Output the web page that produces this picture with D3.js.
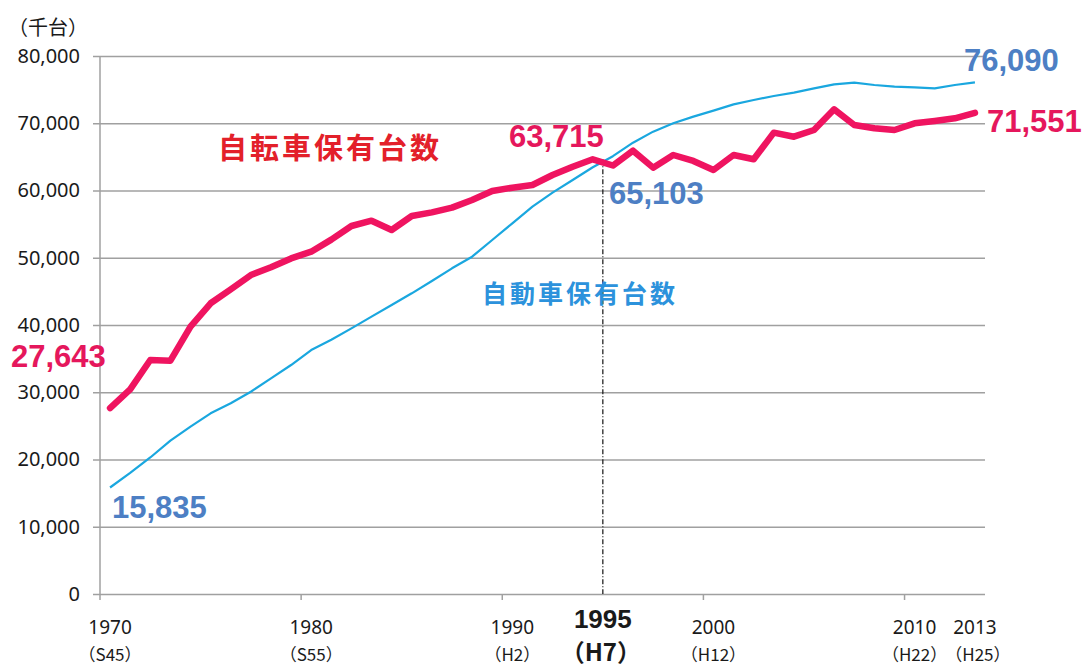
<!DOCTYPE html>
<html>
<head>
<meta charset="utf-8">
<script src="https://cdn.jsdelivr.net/npm/d3@7"></script>
<style>
  body { margin: 0; background: #fff; }
  svg { display: block; }
  .tick text { font-family: "Noto Sans", sans-serif; }
</style>
</head>
<body>
<svg id="chart" width="1086" height="668"></svg>
<script>
// years 1970 .. 2013
const years = d3.range(1970, 2014);

// 自転車保有台数 (千台)
const bicycles = [
  27643, 30440, 34800, 34700, 39750, 43230, 45300, 47430, 48580, 49900,
  50900, 52700, 54720, 55510, 54130, 56210, 56750, 57450, 58590, 59930,
  60420, 60820, 62300, 63540, 64640, 63715, 65920, 63400, 65280, 64390,
  63050, 65280, 64640, 68600, 68000, 69000, 72070, 69740, 69250, 69000,
  69990, 70330, 70730, 71551
];

// 自動車保有台数 (千台)
const cars = [
  15835, 18000, 20300, 22800, 24900, 26870, 28360, 30080, 32070, 34050,
  36280, 37800, 39500, 41240, 42970, 44710, 46540, 48430, 50160, 52640,
  55120, 57590, 59680, 61560, 63450, 65103, 67110, 68750, 69990, 70980,
  71870, 72810, 73460, 74050, 74550, 75190, 75790, 76030, 75690, 75440,
  75340, 75190, 75690, 76090
];

const yTicks = d3.range(0, 80001, 10000);
const xTickYears = [1970, 1980, 1990, 2000, 2010, 2013];
const xTickEras = {1970: "（S45）", 1980: "（S55）", 1990: "（H2）", 2000: "（H12）", 2010: "（H22）", 2013: "（H25）"};
const markYear = 1995;

const plotLeft = 100, plotRight = 985, plotTop = 56, plotBottom = 594;

const svg = d3.select("#chart");

const x = d3.scaleBand().domain(years).range([plotLeft, plotRight]);
const cx = d => x(d) + x.bandwidth() / 2;
const y = d3.scaleLinear().domain([0, 80000]).range([plotBottom, plotTop]);

// gridlines + y labels
const yAxis = svg.append("g")
    .attr("transform", "translate(" + plotLeft + ",0)")
    .call(d3.axisLeft(y).tickValues(yTicks).tickSize(-(plotRight - plotLeft)).tickSizeOuter(0).tickPadding(20)
      .tickFormat(d3.format(",")));
yAxis.select(".domain").remove();
yAxis.selectAll(".tick line").attr("stroke", "#a0a0a0").attr("stroke-width", 1.5).attr("x1", -7);
yAxis.selectAll(".tick text").attr("font-size", 20).attr("fill", "#1a1a1a");

// vertical axis line
svg.append("line")
    .attr("x1", plotLeft).attr("x2", plotLeft).attr("y1", plotTop).attr("y2", plotBottom)
    .attr("stroke", "#a0a0a0").attr("stroke-width", 1.5);

// x tick marks at category boundaries
svg.selectAll(".xtick")
    .data([1970, 1980, 1990, 2000, 2010])
    .join("line")
    .attr("x1", d => x(d)).attr("x2", d => x(d))
    .attr("y1", plotBottom).attr("y2", plotBottom + 6)
    .attr("stroke", "#a0a0a0").attr("stroke-width", 1.5);

// x labels
const xl = svg.append("g").attr("font-family", "'Noto Sans CJK JP', 'Noto Sans', sans-serif").attr("fill", "#1a1a1a");
xTickYears.forEach(yr => {
  xl.append("text").attr("x", cx(yr)).attr("y", 634).attr("text-anchor", "middle")
    .attr("font-size", 19).attr("font-family", "'Noto Sans', sans-serif").text(yr);
  xl.append("text").attr("x", cx(yr) + (yr === 2013 ? 3 : 0)).attr("y", 661).attr("text-anchor", "middle")
    .attr("font-size", 17).text(xTickEras[yr]);
});
xl.append("text").attr("x", x(markYear)).attr("y", 628).attr("text-anchor", "middle")
  .attr("font-size", 26).attr("font-weight", "bold").attr("font-family", "'Liberation Sans', sans-serif").text(markYear);
xl.append("text").attr("x", x(markYear) - 2).attr("y", 661).attr("text-anchor", "middle")
  .attr("font-size", 24).attr("font-weight", "bold").text("（H7）");

// unit label
svg.append("text").attr("x", 8).attr("y", 35)
  .attr("font-family", "'Noto Sans CJK JP', sans-serif").attr("font-size", 20).attr("fill", "#1a1a1a")
  .text("（千台）");

// 1995 dash-dot line
const i95 = years.indexOf(markYear);
svg.append("line")
    .attr("x1", x(markYear)).attr("x2", x(markYear))
    .attr("y1", y(bicycles[i95 - 1])).attr("y2", plotBottom)
    .attr("stroke", "#111").attr("stroke-width", 1.2).attr("stroke-dasharray", "5,2,1,2");

const line = d3.line().x((d, i) => cx(years[i])).y(d => y(d));

svg.append("path").datum(cars)
    .attr("fill", "none").attr("stroke", "#1aa7df").attr("stroke-width", 2.2)
    .attr("stroke-linejoin", "round").attr("d", line);

svg.append("path").datum(bicycles)
    .attr("fill", "none").attr("stroke", "#ef1460").attr("stroke-width", 6.5)
    .attr("stroke-linejoin", "round").attr("stroke-linecap", "round").attr("d", line);

// annotations
const red = "#e5175c", blue = "#4d7fc4";
const num = d3.format(",");
const last = years.length - 1;
const ann = [
  {t: num(bicycles[0]), x: 11, y: 367, c: red},
  {t: num(cars[0]), x: 112, y: 518, c: blue},
  {t: num(bicycles[i95]), x: 509, y: 147, c: red},
  {t: num(cars[i95]), x: 609, y: 204, c: blue},
  {t: num(cars[last]), x: 964, y: 71, c: blue},
  {t: num(bicycles[last]), x: 987, y: 132, c: red}
];
svg.selectAll(".ann").data(ann).join("text")
    .attr("x", d => d.x).attr("y", d => d.y)
    .attr("font-family", "'Liberation Sans', Arial, sans-serif").attr("font-weight", "bold")
    .attr("font-size", 31).attr("fill", d => d.c).text(d => d.t);

svg.append("text").attr("x", 218).attr("y", 159)
  .attr("font-family", "'Noto Sans CJK JP', sans-serif").attr("font-weight", "bold")
  .attr("font-size", 29).attr("letter-spacing", 3).attr("fill", "#e3202a").text("自転車保有台数");

svg.append("text").attr("x", 482).attr("y", 303)
  .attr("font-family", "'Noto Sans CJK JP', sans-serif").attr("font-weight", "bold")
  .attr("font-size", 25).attr("letter-spacing", 3).attr("fill", "#2c92dc").text("自動車保有台数");
</script>
</body>
</html>
